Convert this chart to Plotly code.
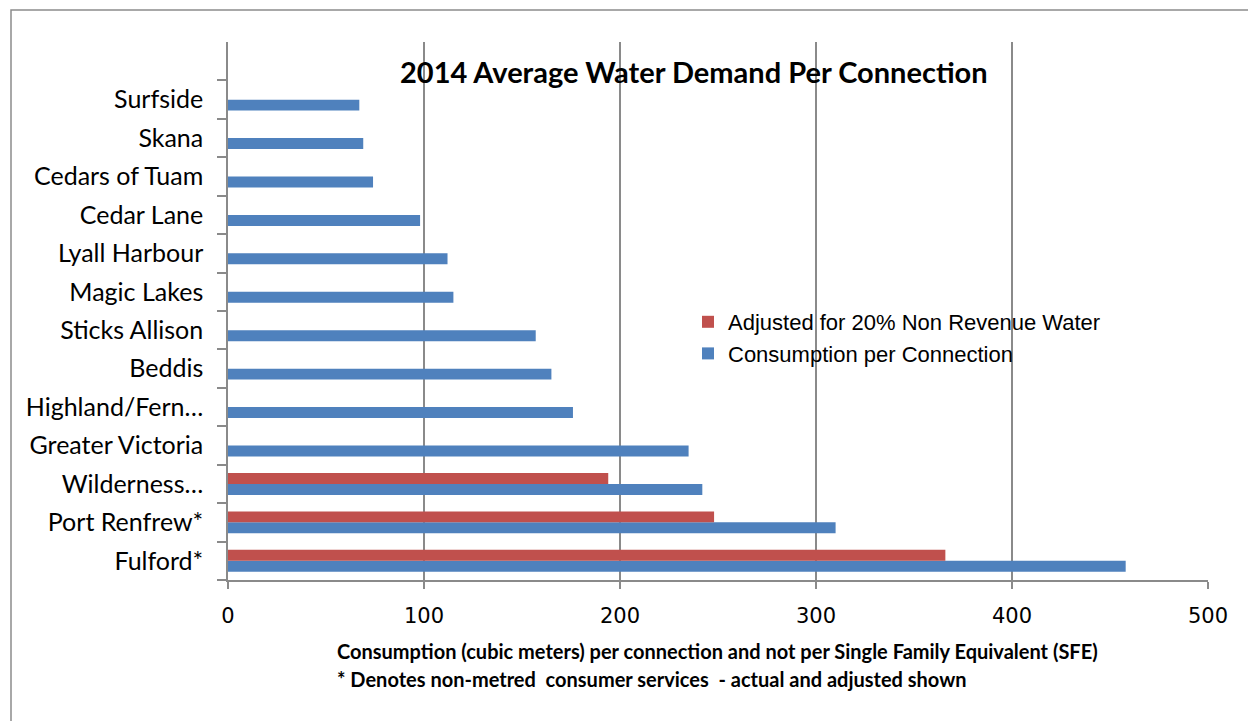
import plotly.graph_objects as go

# Data (bottom to top)
categories = ["Fulford*", "Port Renfrew*", "Wilderness…", "Greater Victoria",
              "Highland/Fern…", "Beddis", "Sticks Allison", "Magic Lakes",
              "Lyall Harbour", "Cedar Lane", "Cedars of Tuam", "Skana", "Surfside"]
consumption = [458, 310, 242, 235, 176, 165, 157, 115, 112, 98, 74, 69, 67]
adjusted = [366, 248, 194, None, None, None, None, None, None, None, None, None, None]
x_ticks = [0, 100, 200, 300, 400, 500]

BLUE = "#4F81BD"
RED = "#C0504D"
GRID = "#8a8a8a"

fig = go.Figure()
fig.add_trace(go.Bar(y=categories, x=consumption, orientation="h",
                     name="Consumption per Connection",
                     marker=dict(color=BLUE, line=dict(width=0))))
fig.add_trace(go.Bar(y=categories, x=adjusted, orientation="h",
                     name="Adjusted for 20% Non Revenue Water",
                     marker=dict(color=RED, line=dict(width=0))))

W, H = 1248, 721
L, R, T, B = 228, 40, 42, 141
pw, ph = W - L - R, H - T - B

def px(xp):
    return (xp - L) / pw

def py(yp):
    return (H - B - yp) / ph

fig.update_layout(
    width=W, height=H,
    margin=dict(l=L, r=R, t=T, b=B, pad=0),
    paper_bgcolor="white", plot_bgcolor="white",
    barmode="group", bargap=0.43, bargroupgap=0,
    showlegend=True,
    legend=dict(traceorder="reversed", x=px(688), y=py(301), xanchor="left", yanchor="top",
                bgcolor="rgba(0,0,0,0)", font=dict(family="Liberation Sans, Arial", size=22, color="black"),
                itemwidth=30, tracegroupgap=0),
    xaxis=dict(range=[0, 500], tickvals=x_ticks, showgrid=True, gridcolor=GRID, gridwidth=1.5,
               zeroline=False, showline=True, linecolor=GRID, linewidth=1.5,
               ticks="outside", ticklen=7, tickcolor=GRID, tickwidth=1.5, ticklabelstandoff=9,
               tickfont=dict(family="DejaVu Sans", size=21, color="black"), fixedrange=True),
    yaxis=dict(categoryorder="array", categoryarray=categories, range=[-0.5, 13.5],
               showgrid=False, zeroline=False, showline=True, linecolor=GRID, linewidth=1.5,
               ticks="outside", ticklen=9, tickcolor=GRID, tickwidth=1.5, tickson="boundaries",
               ticklabelstandoff=18,
               tickfont=dict(family="Lato", size=25, color="black"), fixedrange=True),
)

fig.add_annotation(text="<b>2014 Average Water Demand Per Connection</b>", xref="paper", yref="paper",
                   x=px(694), y=py(72), xanchor="center", yanchor="middle", showarrow=False,
                   font=dict(family="Lato", size=29, color="black"))
fig.add_annotation(text="<b>Consumption (cubic meters) per connection and not per Single Family Equivalent (SFE)</b>",
                   xref="paper", yref="paper", x=px(335), y=py(651), xanchor="left", yanchor="middle",
                   showarrow=False, font=dict(family="Lato", size=20, color="black"))
fig.add_annotation(text="<b>* Denotes non-metred  consumer services  - actual and adjusted shown</b>",
                   xref="paper", yref="paper", x=px(335), y=py(679), xanchor="left", yanchor="middle",
                   showarrow=False, font=dict(family="Lato", size=20, color="black"))

# outer chart-area frame (only left and top edges fall inside the page)
fig.add_shape(type="rect", xref="paper", yref="paper", x0=px(11), x1=px(1262), y0=py(735), y1=py(10),
              line=dict(color="#8c8c8c", width=1.5), fillcolor="rgba(0,0,0,0)", layer="above")

fig.write_html("out.html", config={"displayModeBar": False},
               post_script="document.body.style.margin='0';document.body.style.overflow='hidden';")
